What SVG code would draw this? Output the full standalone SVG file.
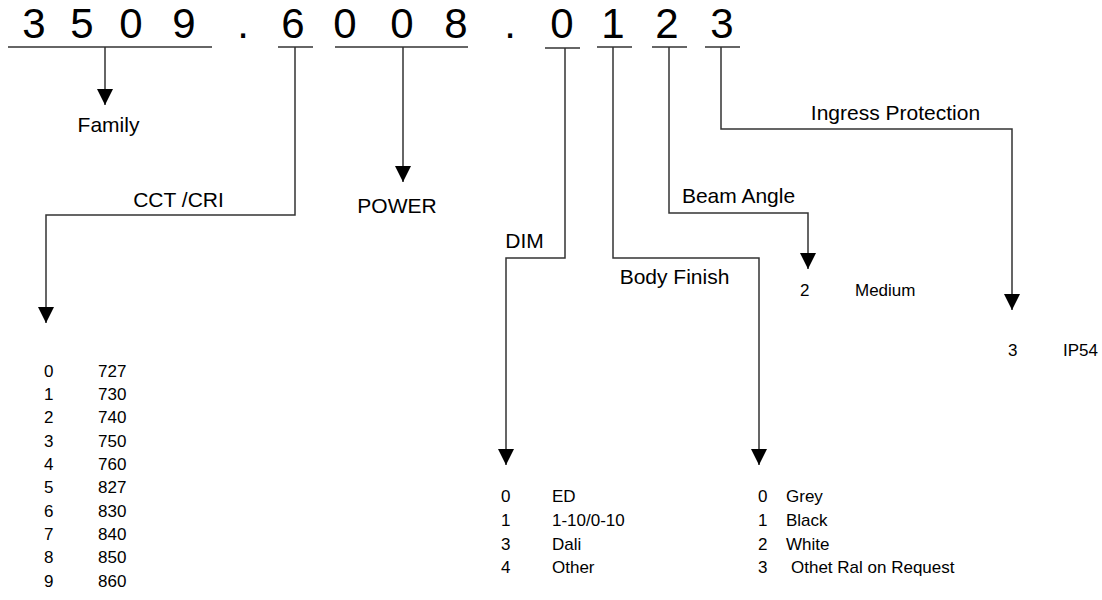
<svg xmlns="http://www.w3.org/2000/svg" width="1102" height="600" viewBox="0 0 1102 600">
<style>
text{font-family:"Liberation Sans",Arial,sans-serif;fill:#000}
.code{font-size:42px;text-anchor:middle}
.lbl{font-size:21px;text-anchor:middle}
.tbl{font-size:17px}
.ul{stroke:#333;stroke-width:1.5;fill:none}
.arr{stroke:#333;stroke-width:1.5;fill:none;marker-end:url(#ah)}
</style>
<defs>
<marker id="ah" markerUnits="userSpaceOnUse" markerWidth="16" markerHeight="16" viewBox="0 0 16 16" refX="16" refY="8" orient="auto">
<path d="M0,0 L16,8 L0,16 Z" fill="#000"/>
</marker>
</defs>
<g id="code">
<text class="code" x="34" y="38">3</text>
<text class="code" x="82" y="38">5</text>
<text class="code" x="131" y="38">0</text>
<text class="code" x="184" y="38">9</text>
<text class="code" x="243" y="38">.</text>
<text class="code" x="293" y="38">6</text>
<text class="code" x="345" y="38">0</text>
<text class="code" x="402" y="38">0</text>
<text class="code" x="456" y="38">8</text>
<text class="code" x="510" y="38">.</text>
<text class="code" x="562" y="38">0</text>
<text class="code" x="613" y="38">1</text>
<text class="code" x="667" y="38">2</text>
<text class="code" x="722" y="38">3</text>
<line class="ul" x1="8" y1="47" x2="212" y2="47"/>
<line class="ul" x1="278" y1="47" x2="313" y2="47"/>
<line class="ul" x1="335" y1="47" x2="468" y2="47"/>
<line class="ul" x1="545" y1="48" x2="580" y2="48"/>
<line class="ul" x1="597" y1="47" x2="632" y2="47"/>
<line class="ul" x1="652" y1="47" x2="687" y2="47"/>
<line class="ul" x1="705" y1="47" x2="740" y2="47"/>
</g>
<g id="connectors">
<path class="arr" d="M105,47 V105"/>
<path class="arr" d="M295,47 V215 H46 V323"/>
<path class="arr" d="M403,47 V182"/>
<path class="arr" d="M565,48 V258 H506 V465"/>
<path class="arr" d="M613,47 V258 H759 V465"/>
<path class="arr" d="M669,47 V213 H808 V269"/>
<path class="arr" d="M721,47 V129 H1012 V310"/>
</g>
<g id="family"><text class="lbl" x="108.5" y="132">Family</text></g>
<g id="cct">
<text class="lbl" x="178.5" y="207">CCT /CRI</text>
<text class="tbl" x="44" y="377">0</text><text class="tbl" x="98" y="377">727</text>
<text class="tbl" x="44" y="400">1</text><text class="tbl" x="98" y="400">730</text>
<text class="tbl" x="44" y="423">2</text><text class="tbl" x="98" y="423">740</text>
<text class="tbl" x="44" y="447">3</text><text class="tbl" x="98" y="447">750</text>
<text class="tbl" x="44" y="470">4</text><text class="tbl" x="98" y="470">760</text>
<text class="tbl" x="44" y="493">5</text><text class="tbl" x="98" y="493">827</text>
<text class="tbl" x="44" y="517">6</text><text class="tbl" x="98" y="517">830</text>
<text class="tbl" x="44" y="540">7</text><text class="tbl" x="98" y="540">840</text>
<text class="tbl" x="44" y="563">8</text><text class="tbl" x="98" y="563">850</text>
<text class="tbl" x="44" y="587">9</text><text class="tbl" x="98" y="587">860</text>
</g>
<g id="power"><text class="lbl" x="397" y="213">POWER</text></g>
<g id="dim">
<text class="lbl" x="524.5" y="248">DIM</text>
<text class="tbl" x="501" y="502">0</text><text class="tbl" x="552" y="502">ED</text>
<text class="tbl" x="501" y="526">1</text><text class="tbl" x="552" y="526">1-10/0-10</text>
<text class="tbl" x="501" y="550">3</text><text class="tbl" x="552" y="550">Dali</text>
<text class="tbl" x="501" y="573">4</text><text class="tbl" x="552" y="573">Other</text>
</g>
<g id="body-finish">
<text class="lbl" x="674.5" y="284">Body Finish</text>
<text class="tbl" x="758" y="502">0</text><text class="tbl" x="786" y="502">Grey</text>
<text class="tbl" x="758" y="526">1</text><text class="tbl" x="786" y="526">Black</text>
<text class="tbl" x="758" y="550">2</text><text class="tbl" x="786" y="550">White</text>
<text class="tbl" x="758" y="573">3</text><text class="tbl" x="791" y="573">Othet Ral on Request</text>
</g>
<g id="beam-angle">
<text class="lbl" x="738.5" y="203">Beam Angle</text>
<text class="tbl" x="800" y="296">2</text><text class="tbl" x="855" y="296">Medium</text>
</g>
<g id="ingress">
<text class="lbl" x="895.5" y="120">Ingress Protection</text>
<text class="tbl" x="1008" y="356">3</text><text class="tbl" x="1063" y="356">IP54</text>
</g>
</svg>
